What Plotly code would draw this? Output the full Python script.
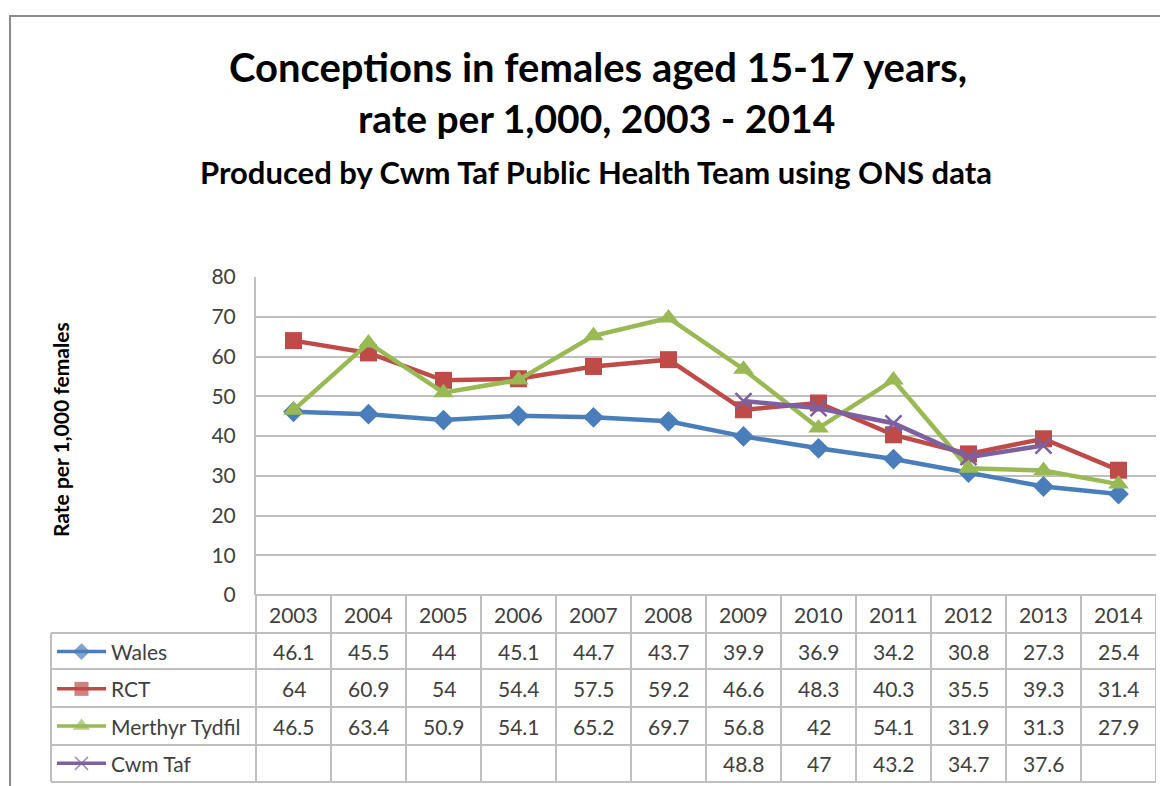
import plotly.graph_objects as go

years = ["2003", "2004", "2005", "2006", "2007", "2008", "2009", "2010", "2011", "2012", "2013", "2014"]
wales = [46.1, 45.5, 44, 45.1, 44.7, 43.7, 39.9, 36.9, 34.2, 30.8, 27.3, 25.4]
rct = [64, 60.9, 54, 54.4, 57.5, 59.2, 46.6, 48.3, 40.3, 35.5, 39.3, 31.4]
merthyr = [46.5, 63.4, 50.9, 54.1, 65.2, 69.7, 56.8, 42, 54.1, 31.9, 31.3, 27.9]
cwm_taf = [None, None, None, None, None, None, 48.8, 47, 43.2, 34.7, 37.6, None]
series_names = ["Wales", "RCT", "Merthyr Tydfil", "Cwm Taf"]
y_ticks = [0, 10, 20, 30, 40, 50, 60, 70, 80]

W, H = 1160, 778          # figure size (page has an 8px body margin)
OX, OY = 8, 8             # page offset of the figure
def px(x):
    return (x - OX) / W
def py(y):
    return 1 - (y - OY) / H

colors = ["#4A7EBB", "#BE4B48", "#98B954", "#7D60A0"]
symbols = ["diamond", "square", "triangle-up", "x-thin"]
msizes = [16, 17, 18, 16]
series = [wales, rct, merthyr, cwm_taf]

FONT = "Lato"
TXT = "#404040"
GRID = "#BFBFBF"

fig = go.Figure()
for name, vals, c, s, ms in zip(series_names, series, colors, symbols, msizes):
    fig.add_trace(go.Scatter(
        x=years, y=vals, name=name, mode="lines+markers",
        line=dict(color=c, width=4.5),
        marker=dict(symbol=s, size=ms, color=c, line=dict(color=c, width=2.5 if s == "x-thin" else 0)),
        connectgaps=False, showlegend=False, xaxis="x", yaxis="y",
    ))

plot_l, plot_r, plot_t, plot_b = 256, 1156, 277, 595
row_lines = [633, 669, 707, 745, 782]
table_l = 51

# legend keys inside the data table
for i, (name, c, s, ms) in enumerate(zip(series_names, colors, symbols, msizes)):
    fig.add_trace(go.Scatter(
        x=[0, 1, 2], y=[i, i, i], mode="lines+markers",
        line=dict(color=c, width=3.5),
        marker=dict(symbol=s, size=[0, ms - 3, 0], color=c,
                    line=dict(color=c, width=1.5 if s == "x-thin" else 0)),
        showlegend=False, xaxis="x2", yaxis="y2", hoverinfo="skip", cliponaxis=False,
    ))

fig.update_layout(
    width=W, height=H,
    margin=dict(l=0, r=0, t=0, b=0, pad=0, autoexpand=False),
    paper_bgcolor="white", plot_bgcolor="white",
    font=dict(family=FONT, color=TXT, size=20),
    xaxis=dict(domain=[px(plot_l), px(plot_r)], type="category", range=[-0.5, 11.5], automargin=False,
               showticklabels=False, showgrid=False, zeroline=False, showline=False, ticks=""),
    yaxis=dict(domain=[py(plot_b), py(plot_t)], range=[0, 80], tickvals=y_ticks, automargin=False,
               showgrid=True, gridcolor=GRID, gridwidth=2, zeroline=False,
               showline=True, linecolor=GRID, linewidth=2, ticks="",
               ticklabelstandoff=14, tickfont=dict(family=FONT, size=21, color=TXT)),
    xaxis2=dict(domain=[px(57), px(106)], range=[0, 2], visible=False, fixedrange=True, automargin=False),
    yaxis2=dict(domain=[py(row_lines[-1]), py(row_lines[0])], range=[3.5, -0.5],
                visible=False, fixedrange=True, automargin=False),
)

shapes = []
shapes.append(dict(type="rect", xref="paper", yref="paper", x0=px(10), x1=px(1200), y0=py(820), y1=py(16),
                   line=dict(color="#8C8C8C", width=2), layer="below"))
shapes.append(dict(type="line", xref="paper", yref="paper", x0=px(plot_l), x1=px(plot_r), y0=py(plot_b), y1=py(plot_b),
                   line=dict(color=GRID, width=2)))
for r in row_lines:
    shapes.append(dict(type="line", xref="paper", yref="paper", x0=px(table_l), x1=px(plot_r), y0=py(r), y1=py(r),
                       line=dict(color=GRID, width=2)))
shapes.append(dict(type="line", xref="paper", yref="paper", x0=px(table_l), x1=px(table_l), y0=py(633), y1=py(782),
                   line=dict(color=GRID, width=2)))
shapes.append(dict(type="line", xref="paper", yref="paper", x0=px(plot_l), x1=px(plot_l), y0=py(plot_b), y1=py(782),
                   line=dict(color=GRID, width=2)))
for k in range(len(years)):
    shapes.append(dict(type="line", xref="x", yref="paper", x0=k + 0.5, x1=k + 0.5, y0=py(plot_b), y1=py(782),
                       line=dict(color=GRID, width=2)))

def ann(text, x, y, size, color=TXT, xref="paper", xanchor="center", **kw):
    return dict(text=text, xref=xref, yref="paper", x=x, y=y, xanchor=xanchor, yanchor="middle",
                showarrow=False, font=dict(family=FONT, size=size, color=color), **kw)

annotations = []
annotations.append(ann("<b>Conceptions in females aged 15-17 years,</b>", px(598), py(67), 40, "black"))
annotations.append(ann("<b>rate per 1,000, 2003 - 2014</b>", px(596), py(118), 39, "black"))
annotations.append(ann("<b>Produced by Cwm Taf Public Health Team using ONS data</b>", px(596), py(172), 31, "black"))
annotations.append(ann("<b>Rate per 1,000 females</b>", px(60), py(430), 21, "black", textangle=-90))
for k, yr in enumerate(years):
    annotations.append(ann(yr, k, py(614), 21, xref="x"))
row_centers = [(row_lines[i] + row_lines[i + 1]) / 2 for i in range(4)]
for name, vals, yc in zip(series_names, series, row_centers):
    annotations.append(ann(name, px(109), py(yc), 21, xanchor="left"))
    for k, v in enumerate(vals):
        if v is None:
            continue
        annotations.append(ann(f"{v:g}", k, py(yc), 21, xref="x"))

fig.update_layout(shapes=shapes, annotations=annotations)
fig.write_html("out.html")
